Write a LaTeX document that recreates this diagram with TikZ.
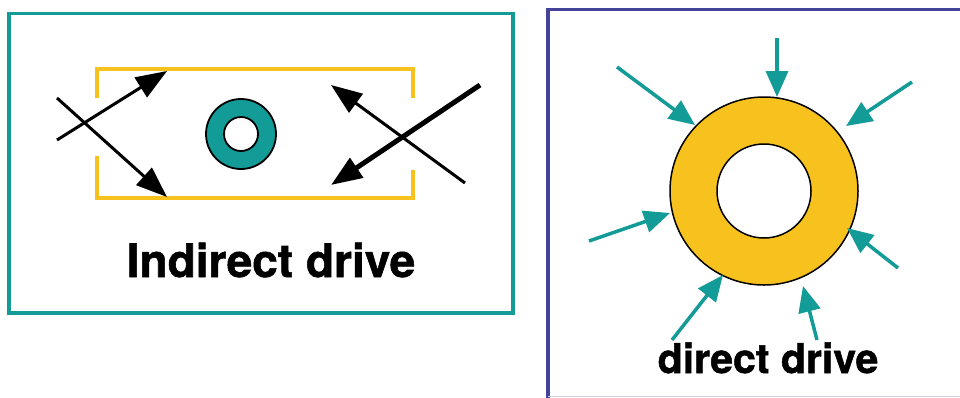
\documentclass[tikz,border=0pt]{standalone}
\usepackage{fontspec}
\setmainfont[BoldFeatures={FakeBold=1.2}]{TeX Gyre Heros}
\usetikzlibrary{arrows.meta}
\definecolor{tealc}{HTML}{139B97}
\definecolor{goldc}{HTML}{F8C21E}
\definecolor{navyc}{HTML}{43439A}
\tikzset{
  blackarrow/.style={draw=black, line width=3pt, -{Triangle[length=31pt,width=23pt]}},
  tealarrow/.style={draw=tealc, line width=3.5pt, -{Triangle[length=26pt,width=22pt]}},
  bracketline/.style={draw=goldc, line width=4pt},
  label/.style={font=\bfseries\fontsize{46}{50}\selectfont, anchor=base, inner sep=0pt},
}
\begin{document}
\begin{tikzpicture}[x=1pt,y=-1pt]
\useasboundingbox (0,0) rectangle (960,397);
\fill[white] (0,0) rectangle (960,397);
% frames
\draw[tealc, line width=3.8pt] (9,13.5) rectangle (513,313);
\draw[navyc, line width=3.8pt] (548,400) -- (548,9.5) -- (965,9.5);
\draw[navyc!25, line width=1pt] (548,396) -- (965,396);
% hohlraum bracket
\draw[bracketline] (97,98) -- (97,69) -- (413,69) -- (413,98);
\draw[bracketline] (97,156) -- (97,198) -- (413,198) -- (413,170);
% small capsule
\coordinate (cap) at (241,134);
\draw[fill=tealc, even odd rule, line width=1.8pt] (cap) circle[radius=35pt] (cap) circle[radius=17pt];
% left beams
\coordinate (la1) at (57,140); \coordinate (lb1) at (167,71);
\coordinate (la2) at (57,98);  \coordinate (lb2) at (167,197);
\draw[blackarrow] (la1) -- (lb1);
\draw[blackarrow] (la2) -- (lb2);
% right beams
\coordinate (ra1) at (480,85);  \coordinate (rb1) at (331,185);
\coordinate (ra2) at (465,183); \coordinate (rb2) at (331,85);
\draw[blackarrow, line width=5pt] (ra1) -- (rb1);
\draw[blackarrow] (ra2) -- (rb2);
\node[label] (ind) at (271,277) {Indirect drive};
% big capsule
\coordinate (bc) at (764,191);
\draw[fill=goldc, even odd rule, line width=1.5pt] (bc) circle[radius=94pt] (bc) circle[radius=47pt];
% direct beams
\coordinate (s1) at (617,67);  \coordinate (t1) at (695,125);
\coordinate (s2) at (777,38);  \coordinate (t2) at (777,97);
\coordinate (s3) at (912,82);  \coordinate (t3) at (846,126);
\coordinate (s4) at (589,241); \coordinate (t4) at (670,213);
\coordinate (s5) at (898,268); \coordinate (t5) at (847,228);
\coordinate (s6) at (672,340); \coordinate (t6) at (723,275);
\coordinate (s7) at (817,340); \coordinate (t7) at (803,286);
\foreach \i in {1,...,7} { \draw[tealarrow] (s\i) -- (t\i); }
\node[label, font=\bfseries\fontsize{41}{46}\selectfont] (dir) at (768,373) {direct drive};
\end{tikzpicture}
\end{document}
